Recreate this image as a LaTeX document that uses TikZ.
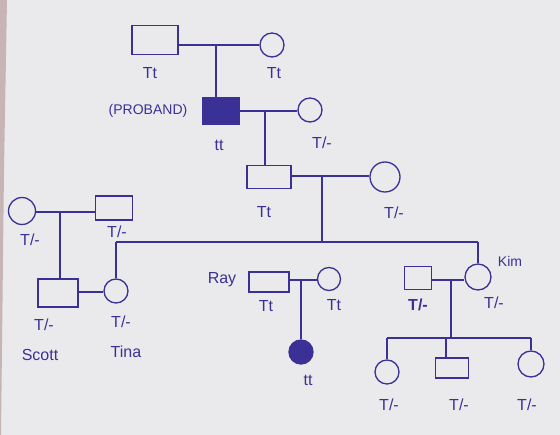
\documentclass[tikz,border=0pt]{standalone}
\usepackage{fontspec}
\setmainfont{Liberation Sans}
\definecolor{ink}{RGB}{58,48,150}
\definecolor{paper}{RGB}{234,234,236}
\definecolor{edge}{RGB}{200,180,180}
\begin{document}
\begin{tikzpicture}[x=1pt,y=-1pt,
  ink line/.style={draw=ink,line width=1.3pt},
  male/.style={ink line,rectangle,minimum width=#1,minimum height=26pt,inner sep=0pt},
  male/.default=42pt,
  female/.style={ink line,circle,minimum size=#1,inner sep=0pt},
  female/.default=24pt,
  affected/.style={fill=ink},
  lbl/.style={text=ink,font=\fontsize{16}{16}\selectfont,inner sep=1pt},
  slbl/.style={text=ink,font=\fontsize{14}{14}\selectfont,inner sep=1pt},
  rel/.style={ink line}]
\fill[paper] (0,0) rectangle (560,435);
\fill[edge] (0,0) -- (7,0) -- (4,170) -- (1,435) -- (0,435) -- cycle;
\useasboundingbox (0,0) rectangle (560,435);

% generation I
\node[male=46pt,minimum height=29pt] (gf) at (155,40) {};
\node[female] (gm) at (272,45) {};
\node[lbl] (gfl) at (150,73) {Tt};
\node[lbl] (gml) at (274,73) {Tt};
\coordinate (m1) at (216,45);
\draw[rel] (gf.east |- m1) -- (gm.west |- m1);

% generation II
\node[male=37pt,affected] (pb) at (221,111) {};
\node[female] (pbw) at (310,110) {};
\node[slbl] (pbt) at (148,111) {(PROBAND)};
\node[lbl] (pbl) at (219,145) {tt};
\node[lbl] (pbwl) at (322,143) {T/-};
\draw[rel] (m1) -- (pb.north -| m1);
\coordinate (m2) at (265,111);
\draw[rel] (pb.east |- m2) -- (pbw.west |- m2);

% generation III
\node[male=44pt,minimum height=23pt] (son) at (269,177) {};
\node[female=30pt] (sw) at (385,177) {};
\node[lbl] (sonl) at (264,212) {Tt};
\node[lbl] (swl) at (394,213) {T/-};
\draw[rel] (m2) -- (son.north -| m2);
\coordinate (m3) at (322,176);
\draw[rel] (son.east |- m3) -- (sw.west |- m3);

% left couple
\node[female=27pt] (lw) at (22,211) {};
\node[male=37pt,minimum height=24pt] (lh) at (114,208) {};
\node[lbl] (lwl) at (30,240) {T/-};
\node[lbl] (lhl) at (117,232) {T/-};
\coordinate (m4) at (60,212);
\draw[rel] (lw.east |- m4) -- (lh.west |- m4);

% sibship of generation IV
\coordinate (sb) at (322,242);
\draw[rel] (m3) -- (sb);
\node[female] (tina) at (116,291) {};
\node[male=40pt,minimum height=20pt] (ray) at (269,282) {};
\node[female=26pt] (kim) at (478,277) {};
\coordinate (sbl) at (tina.north |- sb);
\coordinate (sbr) at (kim.north |- sb);
\draw[rel] (sbl) -- (sbr);
\draw[rel] (sbl) -- (tina.north);
\draw[rel] (ray.north -| 265,0) -- (ray.north -| 265,0 |- sb);
\draw[rel] (sbr) -- (kim.north);

% Scott
\node[male=40pt,minimum height=28pt] (scott) at (58,293) {};
\draw[rel] (m4) -- (scott.north -| m4);
\draw[rel] (scott.east |- 0,292) -- (tina.west |- 0,292);
\node[lbl] (scl) at (44,325) {T/-};
\node[lbl] (scn) at (40,355) {Scott};
\node[lbl] (til) at (121,322) {T/-};
\node[lbl] (tin) at (126,352) {Tina};

% Ray family
\node[lbl] (rayn) at (222,280) {Ray};
\node[lbl] (rayl) at (266,306) {Tt};
\node[female=23pt] (rw) at (329,279) {};
\node[lbl] (rwl) at (334,305) {Tt};
\coordinate (m5) at (301,280);
\draw[rel] (ray.east |- m5) -- (rw.west |- m5);
\node[female,affected] (rd) at (301,352) {};
\node[lbl] (rdl) at (308,380) {tt};
\draw[rel] (m5) -- (rd.north);

% Kim family
\node[male=27pt,minimum height=23pt] (kh) at (418,278) {};
\node[lbl,font=\bfseries\fontsize{16}{16}\selectfont] (khl) at (418,305) {T/-};
\node[slbl] (kimn) at (510,261) {Kim};
\node[lbl] (kiml) at (494,303) {T/-};
\coordinate (m6) at (451,280);
\draw[rel] (kh.east |- m6) -- (kim.west |- m6);
\coordinate (sb2) at (451,338);
\draw[rel] (m6) -- (sb2);
\node[female] (c1) at (387,372) {};
\node[male=33pt,minimum height=20pt] (c2) at (452,368) {};
\node[female=26pt] (c3) at (531,364) {};
\coordinate (s2l) at (c1.north |- sb2);
\coordinate (s2r) at (c3.north |- sb2);
\draw[rel] (s2l) -- (s2r);
\draw[rel] (s2l) -- (c1.north);
\draw[rel] (c2.north -| 446,0) -- (446,338);
\draw[rel] (s2r) -- (c3.north);
\node[lbl] (c1l) at (389,405) {T/-};
\node[lbl] (c2l) at (459,405) {T/-};
\node[lbl] (c3l) at (527,405) {T/-};
\end{tikzpicture}
\end{document}
